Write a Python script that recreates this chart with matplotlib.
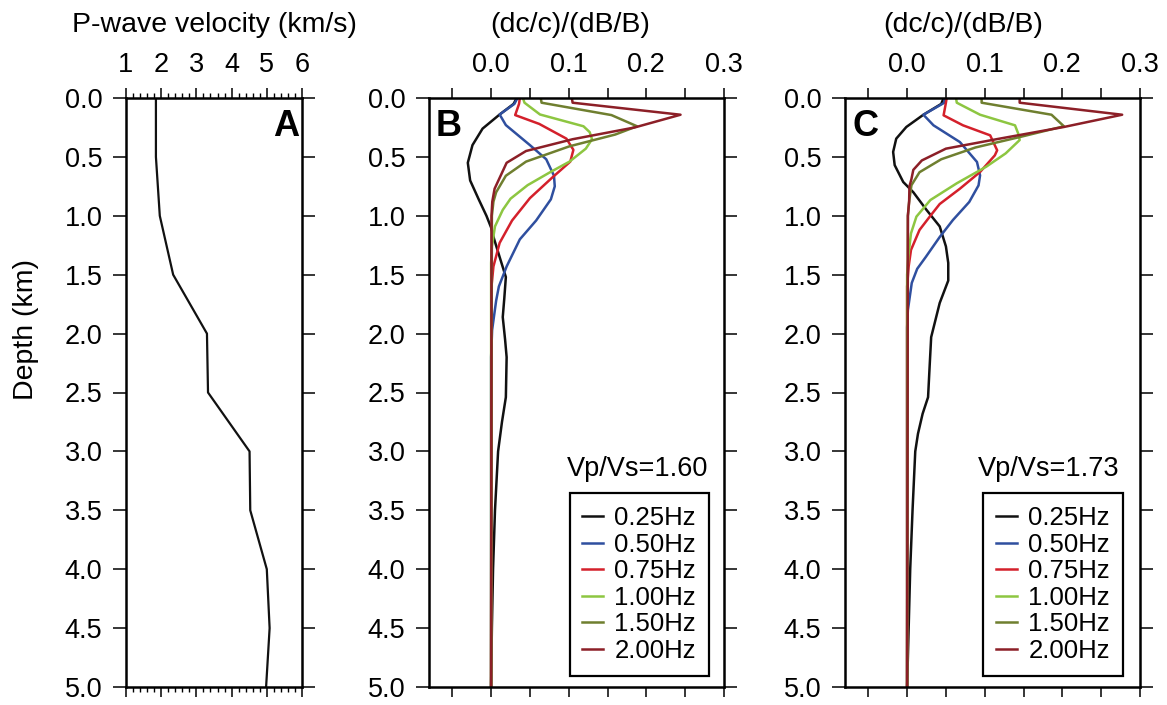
import matplotlib
matplotlib.use("Agg")
import matplotlib.pyplot as plt
from matplotlib.ticker import MultipleLocator, FormatStrFormatter

plt.rcParams["font.family"] = ["Liberation Sans", "DejaVu Sans"]

# ---- P-wave velocity model (panel A) ----
depth_vp = [0.0, 0.5, 1.0, 1.5, 2.0, 2.5, 3.0, 3.5, 4.0, 4.5, 5.0]
vp = [1.85, 1.85, 1.96, 2.34, 3.30, 3.33, 4.51, 4.53, 5.00, 5.08, 4.98]

freq_labels = ["0.25Hz", "0.50Hz", "0.75Hz", "1.00Hz", "1.50Hz", "2.00Hz"]

# ---- Sensitivity kernels, Vp/Vs = 1.60 (panel B) ----
z_b_025 = [0.0, 0.05, 0.14, 0.26, 0.40, 0.55, 0.70, 0.86, 1.00, 1.10, 1.20, 1.35, 1.52,
           1.70, 1.86, 2.05, 2.20, 2.54, 2.75, 3.00, 3.50, 4.00, 4.50, 5.00]
k_b_025 = [0.033, 0.029, 0.011, -0.011, -0.024, -0.030, -0.027, -0.016, -0.006, 0.000,
           0.004, 0.011, 0.019, 0.017, 0.015, 0.018, 0.020, 0.019, 0.014, 0.009, 0.005,
           0.0025, 0.001, 0.000]
z_b_050 = [0.0, 0.05, 0.14, 0.23, 0.40, 0.52, 0.66, 0.75, 0.86, 1.04, 1.20, 1.43, 1.60,
           1.72, 1.97, 2.20, 5.00]
k_b_050 = [0.034, 0.030, 0.011, 0.019, 0.050, 0.071, 0.081, 0.082, 0.077, 0.058, 0.037,
           0.020, 0.010, 0.0065, 0.0013, 0.000, 0.000]
z_b_075 = [0.0, 0.05, 0.145, 0.22, 0.345, 0.44, 0.54, 0.68, 0.85, 1.04, 1.23, 1.43, 1.60, 5.00]
k_b_075 = [0.037, 0.036, 0.031, 0.062, 0.097, 0.106, 0.102, 0.078, 0.050, 0.027, 0.011,
           0.003, 0.0005, 0.000]
z_b_100 = [0.0, 0.04, 0.14, 0.24, 0.29, 0.35, 0.43, 0.54, 0.63, 0.74, 0.855, 0.95, 1.09,
           1.26, 1.40, 5.00]
k_b_100 = [0.041, 0.043, 0.063, 0.119, 0.127, 0.130, 0.122, 0.101, 0.076, 0.047, 0.025,
           0.015, 0.005, 0.001, 0.000, 0.000]
z_b_150 = [0.0, 0.04, 0.145, 0.24, 0.31, 0.41, 0.54, 0.66, 0.80, 0.88, 1.00, 5.00]
k_b_150 = [0.064, 0.065, 0.155, 0.188, 0.160, 0.101, 0.045, 0.019, 0.0065, 0.003, 0.001, 0.000]
z_b_200 = [0.0, 0.04, 0.142, 0.25, 0.35, 0.45, 0.55, 0.77, 0.88, 1.00, 5.00]
k_b_200 = [0.104, 0.105, 0.244, 0.185, 0.105, 0.045, 0.020, 0.0045, 0.0015, 0.0005, 0.000]

# ---- Sensitivity kernels, Vp/Vs = 1.73 (panel C) ----
z_c_025 = [0.0, 0.05, 0.142, 0.246, 0.345, 0.458, 0.57, 0.713, 0.80, 0.95, 1.09, 1.26,
           1.40, 1.55, 1.74, 2.03, 2.28, 2.54, 2.68, 2.85, 3.00, 3.50, 4.00, 4.50, 5.00]
k_c_025 = [0.047, 0.044, 0.021, -0.001, -0.014, -0.018, -0.016, -0.005, 0.008, 0.025,
           0.042, 0.050, 0.053, 0.053, 0.042, 0.031, 0.029, 0.027, 0.020, 0.014, 0.0105,
           0.007, 0.004, 0.002, 0.000]
z_c_050 = [0.0, 0.04, 0.142, 0.232, 0.374, 0.543, 0.657, 0.742, 0.883, 1.036, 1.18, 1.35,
           1.45, 1.57, 1.80, 1.95, 5.00]
k_c_050 = [0.048, 0.048, 0.021, 0.034, 0.068, 0.090, 0.094, 0.092, 0.080, 0.059, 0.042,
           0.024, 0.013, 0.006, 0.001, 0.000, 0.000]
z_c_075 = [0.0, 0.04, 0.147, 0.232, 0.317, 0.444, 0.487, 0.628, 0.77, 0.90, 1.00, 1.12,
           1.29, 1.43, 1.60, 5.00]
k_c_075 = [0.051, 0.050, 0.047, 0.072, 0.107, 0.116, 0.113, 0.094, 0.068, 0.042, 0.030,
           0.016, 0.005, 0.002, 0.000, 0.000]
z_c_100 = [0.0, 0.04, 0.142, 0.232, 0.30, 0.357, 0.47, 0.583, 0.724, 0.866, 1.007, 1.149,
           1.32, 1.50, 5.00]
k_c_100 = [0.063, 0.064, 0.094, 0.139, 0.143, 0.145, 0.127, 0.102, 0.064, 0.030, 0.012,
           0.005, 0.002, 0.000, 0.000]
z_c_150 = [0.0, 0.04, 0.142, 0.24, 0.33, 0.42, 0.52, 0.63, 0.74, 0.88, 1.00, 5.00]
k_c_150 = [0.096, 0.096, 0.186, 0.202, 0.146, 0.088, 0.044, 0.016, 0.0056, 0.0026, 0.001, 0.000]
z_c_200 = [0.0, 0.04, 0.142, 0.246, 0.35, 0.43, 0.53, 0.61, 0.69, 0.75, 0.88, 1.00, 5.00]
k_c_200 = [0.145, 0.145, 0.277, 0.202, 0.115, 0.050, 0.019, 0.008, 0.0055, 0.003, 0.0026,
           0.001, 0.000]

kernels_b = [(z_b_025, k_b_025), (z_b_050, k_b_050), (z_b_075, k_b_075),
             (z_b_100, k_b_100), (z_b_150, k_b_150), (z_b_200, k_b_200)]
kernels_c = [(z_c_025, k_c_025), (z_c_050, k_c_050), (z_c_075, k_c_075),
             (z_c_100, k_c_100), (z_c_150, k_c_150), (z_c_200, k_c_200)]

line_colors = ["#111111", "#2f4f9f", "#d4202b", "#8dc641", "#6f7f2f", "#8c1f27"]

W, H = 1167, 705
fig = plt.figure(figsize=(W / 100, H / 100), dpi=100)


def add_panel(left, right, top=98, bottom=687):
    return fig.add_axes([left / W, (H - bottom) / H, (right - left) / W, (bottom - top) / H])


def style_depth_axis(ax):
    for s in ax.spines.values():
        s.set_linewidth(1.8)
    ax.set_ylim(5.0, 0.0)
    ax.yaxis.set_major_locator(MultipleLocator(0.5))
    ax.yaxis.set_major_formatter(FormatStrFormatter("%.1f"))
    ax.tick_params(axis="y", which="major", direction="out", length=9.5, width=1.1,
                   left=True, right=True, labelleft=True, labelright=False,
                   labelsize=19.5, pad=7.5)
    ax.tick_params(axis="x", which="both", direction="out", width=1.1,
                   top=True, bottom=True, labeltop=True, labelbottom=False,
                   labelsize=19.5, pad=7)


axA = add_panel(126, 302)
axB = add_panel(429, 724)
axC = add_panel(845, 1140)

# Panel A: velocity profile
axA.plot(vp, depth_vp, color="#111111", lw=1.6)
style_depth_axis(axA)
axA.set_xlim(1, 6)
axA.xaxis.set_major_locator(MultipleLocator(1))
axA.xaxis.set_minor_locator(MultipleLocator(0.2))
axA.xaxis.set_major_formatter(FormatStrFormatter("%d"))
axA.tick_params(axis="x", which="major", length=7.5)
axA.tick_params(axis="x", which="minor", length=3.5, width=1.0)
axA.text(0.985, 0.9355, "A", transform=axA.transAxes, ha="right", va="baseline",
         fontsize=26, fontweight="bold")

# Panels B and C: depth sensitivity kernels
for ax, kernels, ratio_text, letter, leg_right, txt_right in [
        (axB, kernels_b, "Vp/Vs=1.60", "B", 0.949, 0.946),
        (axC, kernels_c, "Vp/Vs=1.73", "C", 0.942, 0.932)]:
    handles = []
    for (z, k), c in zip(kernels, line_colors):
        ln, = ax.plot(k, z, color=c, lw=1.8)
        handles.append(ln)
    style_depth_axis(ax)
    ax.set_xlim(-0.08, 0.30)
    ax.xaxis.set_major_locator(MultipleLocator(0.1))
    ax.xaxis.set_minor_locator(MultipleLocator(0.05))
    ax.xaxis.set_major_formatter(FormatStrFormatter("%.1f"))
    ax.tick_params(axis="x", which="both", length=7.5)
    ax.text(0.024, 0.9355, letter, transform=ax.transAxes, ha="left", va="baseline",
            fontsize=26, fontweight="bold")
    ax.text(txt_right, 0.358, ratio_text, transform=ax.transAxes, ha="right",
            va="baseline", fontsize=19.5)
    leg = ax.legend(handles, freq_labels, loc="lower right",
                    bbox_to_anchor=(leg_right, 0.019), bbox_transform=ax.transAxes,
                    borderaxespad=0, frameon=True, fancybox=False, framealpha=1,
                    edgecolor="black", fontsize=18.5, handlelength=0.8,
                    handletextpad=0.45, labelspacing=0.1, borderpad=0.5)
    leg.get_frame().set_linewidth(1.6)

# Axis titles
fig.text(214 / W, (H - 32) / H, "P-wave velocity (km/s)", ha="center", va="baseline",
         fontsize=20.5)
fig.text(570 / W, (H - 32) / H, "(dc/c)/(dB/B)", ha="center", va="baseline", fontsize=20.5)
fig.text(963 / W, (H - 32) / H, "(dc/c)/(dB/B)", ha="center", va="baseline", fontsize=20.5)
fig.text(26 / W, (H - 329) / H, "Depth (km)", ha="center", va="center",
         rotation=90, fontsize=20.5)

fig.savefig("out.png", dpi=100)
